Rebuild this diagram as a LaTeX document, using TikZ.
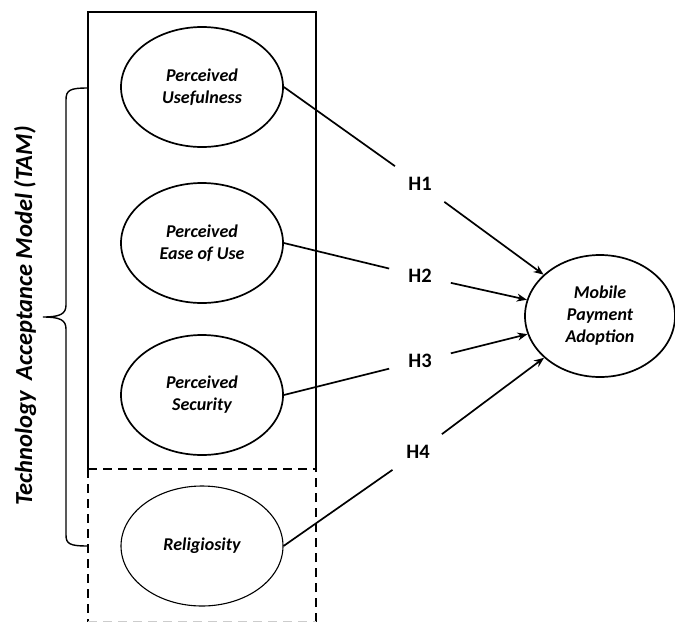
\documentclass[tikz,border=0pt]{standalone}
\usepackage{fontspec}
\setmainfont{Carlito}
\usetikzlibrary{shapes.geometric,arrows.meta}
\begin{document}
\begin{tikzpicture}[x=1pt, y=-1pt, line width=1.7pt, >={Stealth[length=10pt,width=8pt]},
  construct/.style={ellipse,draw,minimum width=162pt,minimum height=120pt,inner sep=0pt,align=center,font=\bfseries\itshape\fontsize{18}{22}\selectfont},
  hyp/.style={minimum width=60pt,minimum height=34pt,inner sep=0pt,font=\bfseries\fontsize{20.5}{24}\selectfont},
  dash box/.style={dash pattern=on 9pt off 6pt}]
\useasboundingbox (0,0) rectangle (675,622);
% boxes
\draw (88,469) -- (88,12) -- (316,12) -- (316,469);
\draw[dash box] (88,469) -- (316,469);
\draw[dash box] (88,469) -- (88,622) (316,622) -- (316,469);
\draw[dash box, gray!40, line width=1pt] (88,621) -- (316,621);
% brace
\draw[line width=1.4pt] (88,88) .. controls (70,88) and (66,90) .. (66,100) -- (66,305)
  .. controls (66,314) and (60,317) .. (43,317) .. controls (60,317) and (66,320) .. (66,329)
  -- (66,535) .. controls (66,544) and (70,546) .. (88,546);
\node[rotate=90, font=\bfseries\itshape\fontsize{24.5}{28}\selectfont] (tam) at (25,316) {Technology\ \ Acceptance Model (TAM)};
\begin{scope}
\node[construct] (pu) at (202,87) {Perceived\\Usefulness};
\node[construct] (peou) at (202,243) {Perceived\\Ease of Use};
\node[construct] (ps) at (202,395) {Perceived\\Security};
\node[construct, line width=1.1pt] (rel) at (202,546) {Religiosity};
\node[construct, minimum width=150pt, minimum height=122pt] (mpa) at (600,316) {Mobile\\Payment\\Adoption};
\end{scope}
\begin{scope}
\node[hyp] (h1) at (420,184) {H1};
\node[hyp] (h2) at (420,276) {H2};
\node[hyp] (h3) at (420,361) {H3};
\node[hyp] (h4) at (418,452) {H4};
\end{scope}
\begin{scope}
\draw (pu.east) -- (h1);
\draw (peou.east) -- (h2);
\draw (ps.east) -- (h3);
\draw (rel.east) -- (h4);
\draw[->] (h1) -- (mpa);
\draw[->] (h2) -- (mpa);
\draw[->] (h3) -- (mpa);
\draw[->] (h4) -- (mpa);
\end{scope}
\end{tikzpicture}
\end{document}
